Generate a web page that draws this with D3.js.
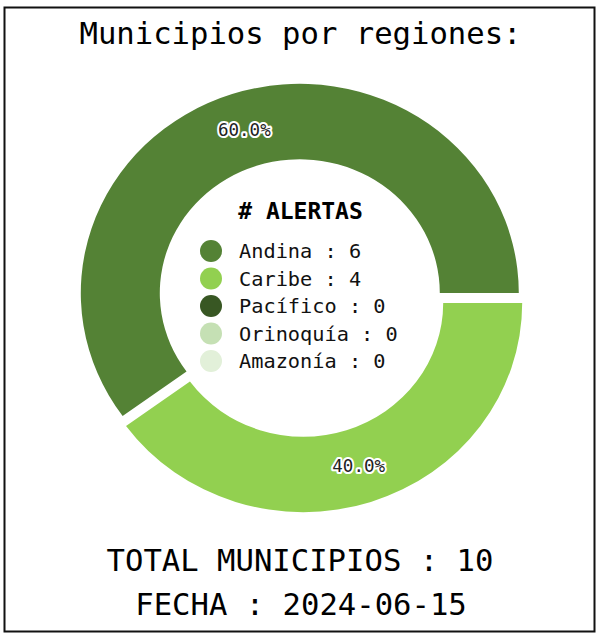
<!DOCTYPE html>
<html>
<head>
<meta charset="utf-8">
<script src="https://cdn.jsdelivr.net/npm/d3@7"></script>
<style>
  html, body { margin: 0; padding: 0; background: #fff; }
  svg { display: block; }
  text { font-family: "DejaVu Sans Mono", monospace; }
</style>
</head>
<body>
<script>
// Regions and alert counts
const regions = ["Andina", "Caribe", "Pacífico", "Orinoquía", "Amazonía"];
const counts = [6, 4, 0, 0, 0];
const regionColors = ["#548235", "#92D050", "#385723", "#C5E0B4", "#E2F0D9"];
const titleText = "Municipios por regiones:";
const legendTitle = "# ALERTAS";
const fecha = "2024-06-15";

const W = 597, H = 634;
const svg = d3.select("body").append("svg").attr("width", W).attr("height", H);

// frame
svg.append("rect")
  .attr("x", 4.5).attr("y", 7.5).attr("width", 590).attr("height", 624)
  .attr("fill", "#fff").attr("stroke", "#111").attr("stroke-width", 2);

svg.append("text")
  .attr("x", 300.5).attr("y", 44)
  .attr("text-anchor", "middle")
  .attr("font-size", 30.6)
  .text(titleText);

// donut
const cx = 301.5, cy = 298, ky = 0.955;
const R = 219, r0 = 140, explode = 5.5;
const total = d3.sum(counts);

const data = regions.map((name, i) => ({ name, value: counts[i], color: regionColors[i] }));

// counter-clockwise from 3 o'clock
const pie = d3.pie().value(d => d.value).sort(null)
  .startAngle(Math.PI / 2).endAngle(Math.PI / 2 - 2 * Math.PI);
const arcs = pie(data).filter(d => d.data.value > 0);

const arc = d3.arc().innerRadius(r0).outerRadius(R);
const g = svg.append("g").attr("transform", `translate(${cx},${cy}) scale(1,${ky})`);

function offset(d) {
  const mid = (d.startAngle + d.endAngle) / 2;
  return [Math.sin(mid) * explode, -Math.cos(mid) * explode];
}

g.selectAll("path.slice").data(arcs).join("path")
  .attr("class", "slice")
  .attr("d", arc)
  .attr("fill", d => d.data.color)
  .attr("transform", d => { const o = offset(d); return `translate(${o[0]},${o[1]})`; });

// percentage labels
const pct = d3.format(".1%");
arcs.forEach(d => {
  const c = arc.centroid(d), o = offset(d);
  const x = cx + c[0] + o[0], y = cy + (c[1] + o[1]) * ky;
  const t = svg.append("g");
  t.append("text").attr("x", x).attr("y", y).attr("dy", "0.35em")
    .attr("text-anchor", "middle").attr("font-size", 17.5)
    .attr("stroke", "#fff").attr("stroke-width", 4).attr("stroke-linejoin", "round")
    .attr("fill", "#fff").text(pct(d.data.value / total));
  t.append("text").attr("x", x).attr("y", y).attr("dy", "0.35em")
    .attr("text-anchor", "middle").attr("font-size", 17.5)
    .attr("fill", "#222").text(pct(d.data.value / total));
});

// legend in the hole
svg.append("text")
  .attr("x", 300.5).attr("y", 219)
  .attr("text-anchor", "middle")
  .attr("font-size", 23).attr("font-weight", "bold")
  .text(legendTitle);

const rowY = d3.scalePoint().domain(regions).range([251, 361]);
const leg = svg.append("g");
leg.selectAll("circle").data(data).join("circle")
  .attr("cx", 211).attr("cy", d => rowY(d.name)).attr("r", 11)
  .attr("fill", d => d.color);
leg.selectAll("text").data(data).join("text")
  .attr("x", 239).attr("y", d => rowY(d.name)).attr("dy", "0.35em")
  .attr("font-size", 20.3).attr("fill", "#111")
  .text(d => `${d.name} : ${d.value}`);

// totals
svg.append("text")
  .attr("x", 300).attr("y", 571).attr("text-anchor", "middle")
  .attr("font-size", 30.6)
  .text(`TOTAL MUNICIPIOS : ${total}`);
svg.append("text")
  .attr("x", 301).attr("y", 615).attr("text-anchor", "middle")
  .attr("font-size", 30.6)
  .text(`FECHA : ${fecha}`);
</script>
</body>
</html>
